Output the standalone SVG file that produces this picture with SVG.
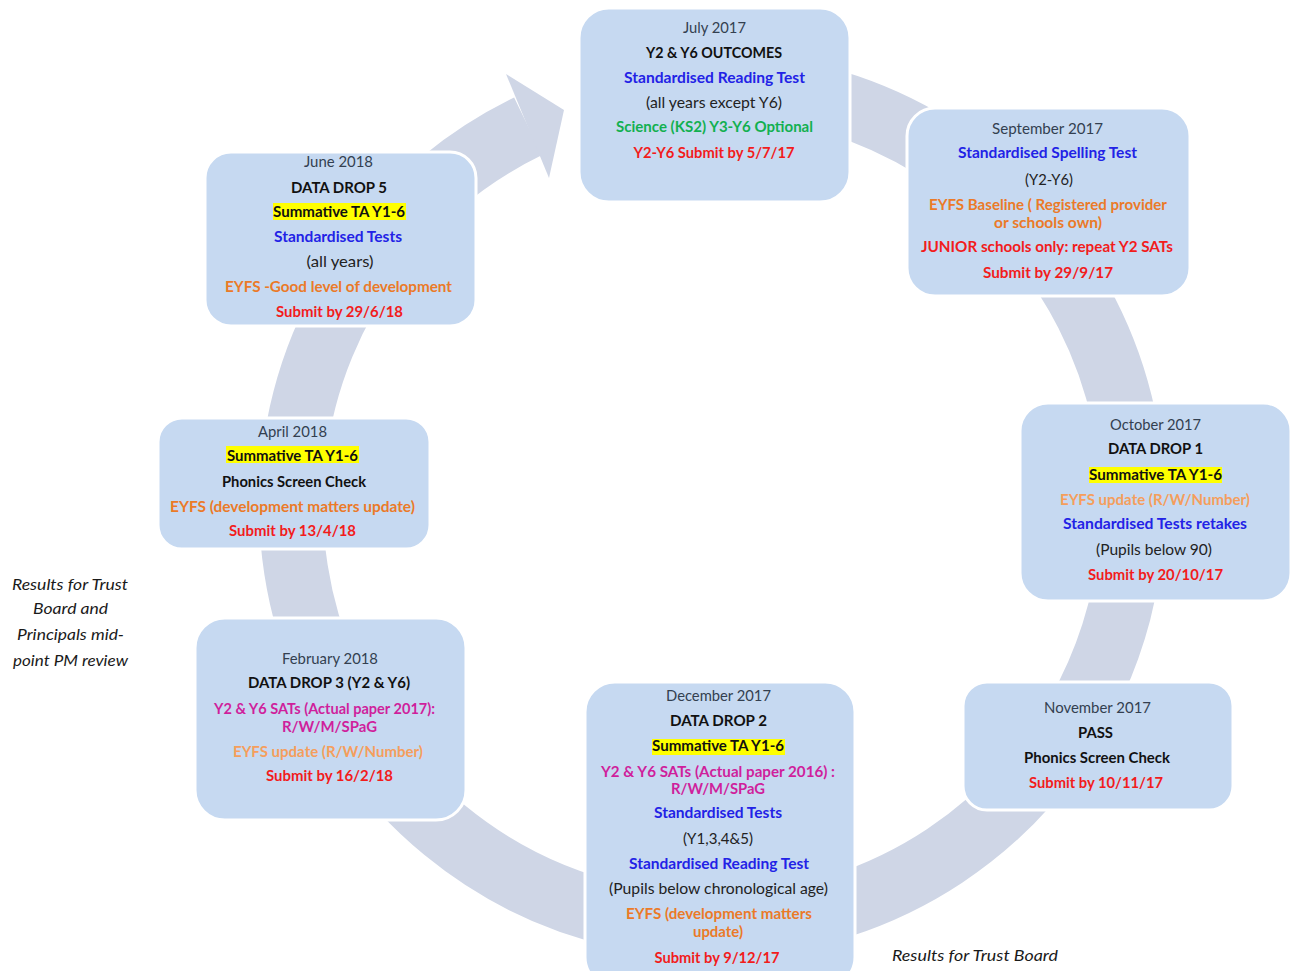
<svg xmlns="http://www.w3.org/2000/svg" width="1294" height="971" viewBox="0 0 1294 971">
<style>
.box{fill:#C6D9F1;stroke:#FFFFFF;stroke-width:3}
.hl{fill:#FFFF00}
text{font-family:Lato,"Liberation Sans",sans-serif;font-size:15px;text-anchor:middle}
.b{font-weight:bold}
.dt{fill:#333F50}
.bk{fill:#111111}
.nm{fill:#222222}
.bl{fill:#2222E6}
.gr{fill:#12B050}
.rd{fill:#F21C1C}
.or{fill:#EB7A28}
.lo{fill:#F59E5C}
.mg{fill:#CF1F9C}
.it{font-style:italic;fill:#1A1A1A}
.ring{fill:none;stroke:#CFD6E6;stroke-width:64}
.head{fill:#CFD6E6}
</style>
<rect width="1294" height="971" fill="#FFFFFF"/>
<g id="connectors">
<path class="ring" d="M 638.9 90.4 A 421 421 0 1 1 528.1 126.3"/>
<polygon class="head" points="506,74 564,110 549,178"/>
</g>
<g id="node-july">
<rect class="box" x="579" y="8" width="271" height="194" rx="30"/>
<text class="dt" x="714.5" y="33" textLength="63" lengthAdjust="spacingAndGlyphs">July 2017</text>
<text class="b bk" x="714" y="58" textLength="136" lengthAdjust="spacingAndGlyphs">Y2 &amp; Y6 OUTCOMES</text>
<text class="b bl" x="714.5" y="83" textLength="181" lengthAdjust="spacingAndGlyphs">Standardised Reading Test</text>
<text class="nm" x="714" y="108" textLength="136" lengthAdjust="spacingAndGlyphs">(all years except Y6)</text>
<text class="b gr" x="714.5" y="132" textLength="197" lengthAdjust="spacingAndGlyphs">Science  (KS2) Y3-Y6 Optional</text>
<text class="b rd" x="714" y="158" textLength="161" lengthAdjust="spacingAndGlyphs">Y2-Y6 Submit by 5/7/17</text>
</g>
<g id="node-september">
<rect class="box" x="907" y="108" width="283" height="188" rx="28"/>
<text class="dt" x="1047.5" y="134" textLength="111" lengthAdjust="spacingAndGlyphs">September 2017</text>
<text class="b bl" x="1047.5" y="158" textLength="179" lengthAdjust="spacingAndGlyphs">Standardised Spelling Test</text>
<text class="nm" x="1049" y="185" textLength="48" lengthAdjust="spacingAndGlyphs">(Y2-Y6)</text>
<text class="b or" x="1048" y="210" textLength="238" lengthAdjust="spacingAndGlyphs">EYFS Baseline ( Registered provider</text>
<text class="b or" x="1048" y="228" textLength="108" lengthAdjust="spacingAndGlyphs">or schools own)</text>
<text class="b rd" x="1047" y="252" textLength="252" lengthAdjust="spacingAndGlyphs">JUNIOR schools only:  repeat Y2 SATs</text>
<text class="b rd" x="1048" y="278" textLength="130" lengthAdjust="spacingAndGlyphs">Submit by  29/9/17</text>
</g>
<g id="node-june">
<rect class="box" x="205" y="152" width="271" height="174" rx="26"/>
<text class="dt" x="338.5" y="167" textLength="69" lengthAdjust="spacingAndGlyphs">June 2018</text>
<text class="b bk" x="339" y="193" textLength="96" lengthAdjust="spacingAndGlyphs">DATA  DROP 5</text>
<rect class="hl" x="273" y="203" width="133" height="17"/>
<text class="b bk" x="339" y="217" textLength="132" lengthAdjust="spacingAndGlyphs">Summative TA Y1-6</text>
<text class="b bl" x="338" y="242" textLength="128" lengthAdjust="spacingAndGlyphs">Standardised Tests</text>
<text class="nm" x="340" y="267" textLength="67" lengthAdjust="spacingAndGlyphs">(all years)</text>
<text class="b or" x="338.5" y="292" textLength="227" lengthAdjust="spacingAndGlyphs">EYFS -Good level  of development</text>
<text class="b rd" x="339.5" y="317" textLength="127" lengthAdjust="spacingAndGlyphs">Submit by 29/6/18</text>
</g>
<g id="node-april">
<rect class="box" x="158" y="418" width="272" height="131" rx="24"/>
<text class="dt" x="292.5" y="437" textLength="69" lengthAdjust="spacingAndGlyphs">April 2018</text>
<rect class="hl" x="226" y="446" width="133" height="17"/>
<text class="b bk" x="292.5" y="461" textLength="131" lengthAdjust="spacingAndGlyphs">Summative TA Y1-6</text>
<text class="b bk" x="294" y="487" textLength="144" lengthAdjust="spacingAndGlyphs">Phonics Screen Check</text>
<text class="b or" x="292.5" y="512" textLength="245" lengthAdjust="spacingAndGlyphs">EYFS (development matters update)</text>
<text class="b rd" x="292.5" y="536" textLength="127" lengthAdjust="spacingAndGlyphs">Submit by 13/4/18</text>
</g>
<g id="node-october">
<rect class="box" x="1020" y="403" width="271" height="198" rx="28"/>
<text class="dt" x="1155.5" y="430" textLength="91" lengthAdjust="spacingAndGlyphs">October 2017</text>
<text class="b bk" x="1155.5" y="454" textLength="95" lengthAdjust="spacingAndGlyphs">DATA  DROP 1</text>
<rect class="hl" x="1089" y="467" width="133" height="16"/>
<text class="b bk" x="1155.5" y="480" textLength="133" lengthAdjust="spacingAndGlyphs">Summative TA Y1-6</text>
<text class="b lo" x="1155" y="505" textLength="190" lengthAdjust="spacingAndGlyphs">EYFS update  (R/W/Number)</text>
<text class="b bl" x="1155" y="529" textLength="184" lengthAdjust="spacingAndGlyphs">Standardised Tests retakes</text>
<text class="nm" x="1154" y="555" textLength="116" lengthAdjust="spacingAndGlyphs">(Pupils below 90)</text>
<text class="b rd" x="1155.5" y="580" textLength="135" lengthAdjust="spacingAndGlyphs">Submit by 20/10/17</text>
</g>
<g id="node-november">
<rect class="box" x="963" y="682" width="270" height="128" rx="24"/>
<text class="dt" x="1097.5" y="713" textLength="107" lengthAdjust="spacingAndGlyphs">November 2017</text>
<text class="b bk" x="1095.5" y="738" textLength="35" lengthAdjust="spacingAndGlyphs">PASS</text>
<text class="b bk" x="1097" y="763" textLength="146" lengthAdjust="spacingAndGlyphs">Phonics Screen Check</text>
<text class="b rd" x="1096" y="788" textLength="134" lengthAdjust="spacingAndGlyphs">Submit by 10/11/17</text>
</g>
<g id="node-february">
<rect class="box" x="195" y="618" width="271" height="202" rx="30"/>
<text class="dt" x="330" y="664" textLength="96" lengthAdjust="spacingAndGlyphs">February 2018</text>
<text class="b bk" x="329" y="688" textLength="162" lengthAdjust="spacingAndGlyphs">DATA  DROP 3 (Y2 &amp; Y6)</text>
<text class="b mg" x="324.5" y="714" textLength="221" lengthAdjust="spacingAndGlyphs">Y2 &amp; Y6 SATs (Actual paper  2017):</text>
<text class="b mg" x="329.5" y="732" textLength="95" lengthAdjust="spacingAndGlyphs">R/W/M/SPaG</text>
<text class="b lo" x="328" y="757" textLength="190" lengthAdjust="spacingAndGlyphs">EYFS update  (R/W/Number)</text>
<text class="b rd" x="329.5" y="781" textLength="127" lengthAdjust="spacingAndGlyphs">Submit by 16/2/18</text>
</g>
<g id="node-december">
<rect class="box" x="585" y="682" width="270" height="305" rx="30"/>
<text class="dt" x="718.5" y="701" textLength="105" lengthAdjust="spacingAndGlyphs">December 2017</text>
<text class="b bk" x="718.5" y="726" textLength="97" lengthAdjust="spacingAndGlyphs">DATA  DROP 2</text>
<rect class="hl" x="652" y="739" width="133" height="16"/>
<text class="b bk" x="718" y="751" textLength="132" lengthAdjust="spacingAndGlyphs">Summative TA Y1-6</text>
<text class="b mg" x="718" y="777" textLength="234" lengthAdjust="spacingAndGlyphs">Y2 &amp; Y6 SATs (Actual paper 2016) :</text>
<text class="b mg" x="718" y="794" textLength="94" lengthAdjust="spacingAndGlyphs">R/W/M/SPaG</text>
<text class="b bl" x="718" y="818" textLength="128" lengthAdjust="spacingAndGlyphs">Standardised Tests</text>
<text class="nm" x="718" y="844" textLength="70" lengthAdjust="spacingAndGlyphs">(Y1,3,4&amp;5)</text>
<text class="b bl" x="719" y="869" textLength="180" lengthAdjust="spacingAndGlyphs">Standardised Reading Test</text>
<text class="nm" x="718.5" y="894" textLength="219" lengthAdjust="spacingAndGlyphs">(Pupils below chronological age)</text>
<text class="b or" x="719" y="919" textLength="186" lengthAdjust="spacingAndGlyphs">EYFS (development matters</text>
<text class="b or" x="718" y="937" textLength="50" lengthAdjust="spacingAndGlyphs">update)</text>
<text class="b rd" x="717" y="963" textLength="125" lengthAdjust="spacingAndGlyphs">Submit by 9/12/17</text>
</g>
<g id="note-left">
<text class="it" x="70" y="590" textLength="116" lengthAdjust="spacingAndGlyphs">Results for Trust</text>
<text class="it" x="70.5" y="614" textLength="75" lengthAdjust="spacingAndGlyphs">Board and</text>
<text class="it" x="70.5" y="640" textLength="107" lengthAdjust="spacingAndGlyphs">Principals mid-</text>
<text class="it" x="70.5" y="666" textLength="115" lengthAdjust="spacingAndGlyphs">point PM review</text>
</g>
<g id="note-bottom">
<text class="it" x="975" y="961" textLength="166" lengthAdjust="spacingAndGlyphs">Results for Trust Board</text>
</g>
</svg>
